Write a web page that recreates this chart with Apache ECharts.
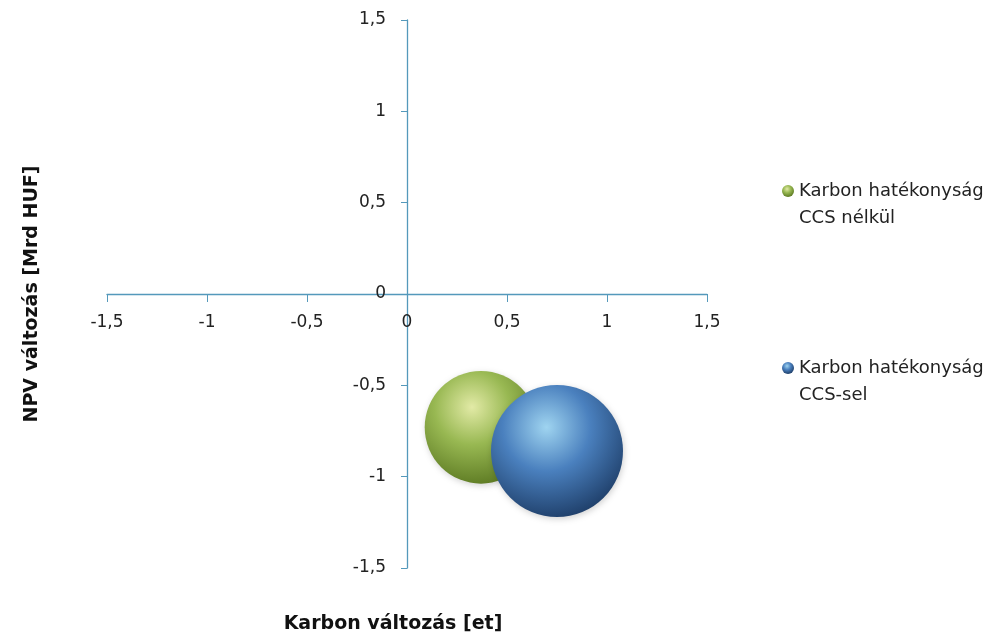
<!DOCTYPE html>
<html>
<head>
<meta charset="utf-8">
<script src="https://cdn.jsdelivr.net/npm/echarts@6/dist/echarts.min.js"></script>
<style>
  html, body { margin: 0; padding: 0; background: #fff; }
  #chart { width: 1006px; height: 639px; }
</style>
</head>
<body>
<div id="chart"></div>
<script>
// Bubble data: carbon change (x), NPV change (y), bubble size
const seriesNames = ['Karbon hatékonyság\nCCS nélkül', 'Karbon hatékonyság\nCCS-sel'];
const carbonChange = [0.37, 0.75];
const npvChange = [-0.73, -0.86];
const bubbleSize = [1.6, 2.2];
const axisTicks = [-1.5, -1, -0.5, 0, 0.5, 1, 1.5];

const FONT = 'DejaVu Sans';
const AXIS_COLOR = '#5499bb';

// plot area; the axes cross in its middle (at 0,0)
const GRID = { left: 107, right: 299, top: 20, bottom: 71 };
const plotW = 1006 - GRID.left - GRID.right;
const plotH = 639 - GRID.top - GRID.bottom;

// sphere-like shading for each bubble
const sphereColors = [
  { hi: '#e2eaa6', mid: '#98b852', edge: '#58751f' },
  { hi: '#9fd4f0', mid: '#4a80be', edge: '#1b3962' }
];
function sphere(c, cx, cy, r) {
  return {
    type: 'radial', x: cx, y: cy, r: r,
    colorStops: [
      { offset: 0, color: c.hi },
      { offset: 0.45, color: c.mid },
      { offset: 1, color: c.edge }
    ]
  };
}

const fmt = v => String(v).replace('.', ',');

const series = seriesNames.map((name, i) => ({
  name: name,
  type: 'scatter',
  data: [[carbonChange[i], npvChange[i], bubbleSize[i]]],
  symbolSize: d => 89 * Math.sqrt(d[2]),
  itemStyle: {
    color: sphere(sphereColors[i], 0.42, 0.32, 0.74),
    opacity: 1,
    shadowBlur: 6,
    shadowColor: 'rgba(0,0,0,0.18)',
    shadowOffsetX: 1,
    shadowOffsetY: 2
  }
}));

// legend marker: a dot at the top of a tall box, so it sits level with the first text line
const LEGEND_ICON = 'path://M0,6A6,6,0,1,1,12,6A6,6,0,1,1,0,6ZM6,40';
const legendText = { fontFamily: FONT, fontSize: 18, color: '#222', lineHeight: 27 };
function legendFor(i, top) {
  return {
    data: [seriesNames[i]], orient: 'vertical', left: 777, top: top,
    icon: LEGEND_ICON, itemWidth: 12, itemHeight: 40, itemGap: 0,
    itemStyle: { color: sphere(sphereColors[i], 0.42, 0.1, 0.7), shadowBlur: 0 },
    textStyle: legendText
  };
}

const chart = echarts.init(document.getElementById('chart'), null, { renderer: 'canvas' });
chart.setOption({
  animation: false,
  backgroundColor: '#fff',
  grid: Object.assign({ containLabel: false, outerBoundsMode: 'none' }, GRID),
  legend: [legendFor(0, 173), legendFor(1, 350)],
  xAxis: {
    type: 'value', min: axisTicks[0], max: axisTicks[axisTicks.length - 1], interval: 0.5,
    position: 'bottom', offset: -plotH / 2,
    name: 'Karbon változás [et]', nameLocation: 'middle', nameGap: 321,
    nameTextStyle: { fontFamily: FONT, fontSize: 19, fontWeight: 'bold', color: '#111', padding: [0, 28, 0, 0] },
    axisLine: { onZero: false, lineStyle: { color: AXIS_COLOR, width: 1.3 } },
    axisTick: { show: true, length: 8, lineStyle: { color: AXIS_COLOR } },
    axisLabel: { formatter: fmt, fontFamily: FONT, fontSize: 17, color: '#222', margin: 20 },
    splitLine: { show: false }
  },
  yAxis: {
    type: 'value', min: axisTicks[0], max: axisTicks[axisTicks.length - 1], interval: 0.5,
    position: 'left', offset: -plotW / 2,
    name: 'NPV változás [Mrd HUF]', nameLocation: 'middle', nameGap: 365, nameRotate: 90,
    nameTextStyle: { fontFamily: FONT, fontSize: 19, fontWeight: 'bold', color: '#111' },
    axisLine: { onZero: false, lineStyle: { color: AXIS_COLOR, width: 1.3 } },
    axisTick: { show: true, length: 6, lineStyle: { color: AXIS_COLOR } },
    axisLabel: { formatter: fmt, fontFamily: FONT, fontSize: 17, color: '#222', margin: 21 },
    splitLine: { show: false }
  },
  series: series
});
</script>
</body>
</html>
